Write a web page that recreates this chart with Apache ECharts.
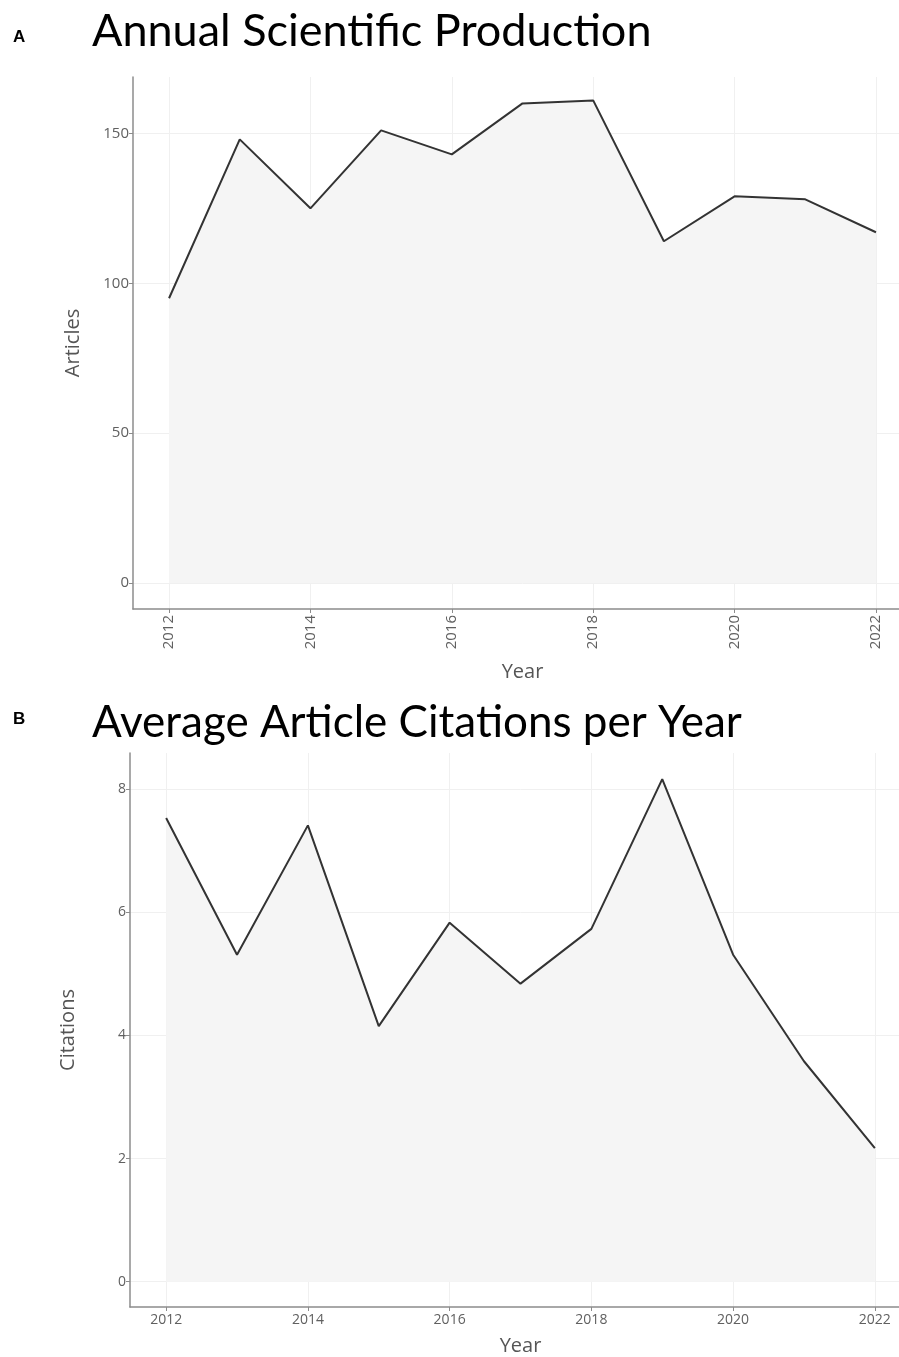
<!DOCTYPE html>
<html>
<head>
<meta charset="utf-8">
<title>Annual Scientific Production / Average Article Citations per Year</title>
<script src="https://cdn.jsdelivr.net/npm/echarts@6/dist/echarts.min.js"></script>
<style>
  html, body { margin: 0; padding: 0; background: #ffffff; overflow: hidden; }
  /* the plot area runs slightly past the right edge of the page */
  #chart { width: 920px; height: 1357px; }
</style>
</head>
<body>
<div id="chart"></div>
<script>
// Publication years shared by both panels
const years = [2012, 2013, 2014, 2015, 2016, 2017, 2018, 2019, 2020, 2021, 2022];
// Panel A: number of articles per year
const articles = [95, 148, 125, 151, 143, 160, 161, 114, 129, 128, 117];
// Panel B: average article citations per year
const citations = [7.53, 5.31, 7.41, 4.15, 5.83, 4.84, 5.73, 8.16, 5.31, 3.58, 2.17];

// Tick values
const yearTicks = [2012, 2014, 2016, 2018, 2020, 2022];
const articleTicks = [0, 50, 100, 150];
const citationTicks = [0, 2, 4, 6, 8];

const toPairs = (xs, ys) => xs.map((x, i) => [x, ys[i]]);

const tickFont = (size) => ({ fontFamily: '"Open Sans", sans-serif', fontSize: size, color: '#606060' });
const nameFont = { fontFamily: '"Open Sans", sans-serif', fontSize: 20, color: '#555555' };
const axisLine = { show: true, onZero: false, lineStyle: { color: '#8c8c8c', width: 1.5 } };
const gridLine = { show: true, lineStyle: { color: '#f0f0f0', width: 1 } };
const tick = (vals) => ({ show: true, length: 4, inside: false, customValues: vals, lineStyle: { color: '#8c8c8c', width: 1 } });

function xAxisCfg(gridIndex, rotate, nameGap, size) {
  return {
    type: 'value', gridIndex,
    min: 2011.49, max: 2022.51,
    name: 'Year', nameLocation: 'middle', nameGap,
    nameTextStyle: nameFont,
    axisLine, splitLine: gridLine,
    axisTick: tick(yearTicks),
    axisLabel: Object.assign({ customValues: yearTicks, rotate, margin: 6, formatter: v => String(v) }, tickFont(size))
  };
}

function yAxisCfg(gridIndex, name, min, max, vals, nameGap, size) {
  return {
    type: 'value', gridIndex, min, max,
    name, nameLocation: 'middle', nameGap,
    nameTextStyle: nameFont,
    axisLine, splitLine: gridLine,
    axisTick: tick(vals),
    axisLabel: Object.assign({ customValues: vals, margin: 4 }, tickFont(size))
  };
}

function areaSeries(idx, data) {
  return {
    type: 'line', xAxisIndex: idx, yAxisIndex: idx,
    data, showSymbol: false, symbol: 'none',
    lineStyle: { color: '#333333', width: 2 },
    areaStyle: { color: '#f5f5f5', opacity: 1, origin: 0 },
    silent: true, animation: false
  };
}

const chart = echarts.init(document.getElementById('chart'), null, { renderer: 'canvas' });
chart.setOption({
  animation: false,
  backgroundColor: '#ffffff',
  title: [
    { text: 'A', left: 8, top: 24, textStyle: { fontFamily: '"Liberation Sans", Arial, sans-serif', fontWeight: 'bold', fontSize: 17, color: '#000' } },
    { text: 'Annual Scientific Production', left: 87, top: 4, textStyle: { fontFamily: 'Lato, sans-serif', fontWeight: 'normal', fontSize: 45, color: '#000' } },
    { text: 'B', left: 8, top: 706, textStyle: { fontFamily: '"Liberation Sans", Arial, sans-serif', fontWeight: 'bold', fontSize: 17, color: '#000' } },
    { text: 'Average Article Citations per Year', left: 87, top: 696, textStyle: { fontFamily: 'Lato, sans-serif', fontWeight: 'normal', fontSize: 44, color: '#000' } }
  ],
  grid: [
    { left: 133, top: 77, width: 779, height: 532, containLabel: false },
    { left: 130, top: 753, width: 781, height: 555, containLabel: false }
  ],
  xAxis: [
    xAxisCfg(0, 90, 53, 15),
    xAxisCfg(1, 0, 29, 14)
  ],
  yAxis: [
    yAxisCfg(0, 'Articles', -8.67, 168.8, articleTicks, 50, 15),
    yAxisCfg(1, 'Citations', -0.41, 8.585, citationTicks, 52, 14)
  ],
  series: [
    areaSeries(0, toPairs(years, articles)),
    areaSeries(1, toPairs(years, citations))
  ]
});
</script>
</body>
</html>
